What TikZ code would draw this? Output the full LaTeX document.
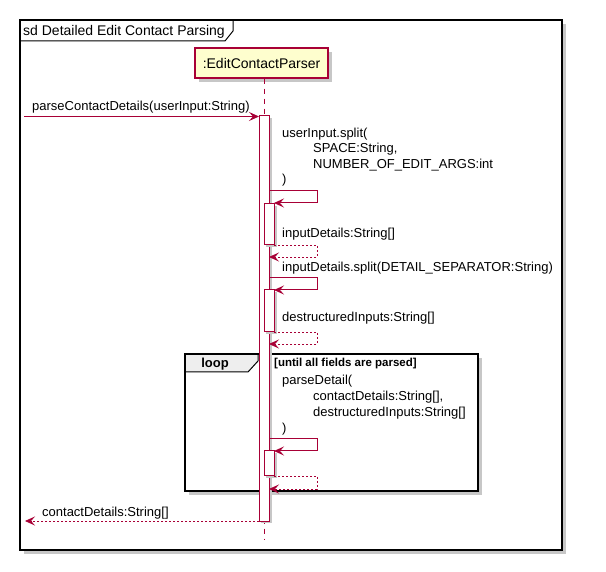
\documentclass[tikz,border=0pt]{standalone}
\usepackage{fontspec}
\setmainfont{Liberation Sans}
\usetikzlibrary{arrows.meta}
\definecolor{umlred}{HTML}{A80036}
\definecolor{umlfill}{HTML}{FEFECE}
\definecolor{tabfill}{HTML}{EEEEEE}
\begin{document}
\begin{tikzpicture}[x=1pt,y=-1pt,
  msgfont/.style={font=\fontsize{13}{15}\selectfont, inner sep=0pt, anchor=base west},
  sync/.style={draw=umlred, line width=1pt, -{Stealth[length=10pt,width=9pt,inset=4pt]}},
  ret/.style={draw=umlred, line width=0.8pt, dash pattern=on 2pt off 2pt, -{Stealth[length=10pt,width=9pt,inset=4pt,sep=0pt]}},
  act/.style={draw=umlred, line width=1pt, fill=white},
  shade/.style={fill=black!22, draw=none},
]
\useasboundingbox (0,0) rectangle (606,572);
\fill[white] (0,0) rectangle (606,572);

% outer frame
\fill[shade] (24,24) rectangle (566,554);
\draw[line width=1.5pt, fill=white] (20,20) rectangle (562,550);
\draw[line width=1pt] (20,41) -- (225,41) -- (233,31) -- (233,20);
\node[msgfont, font=\fontsize{14}{16}\selectfont] (title) at (23,35.5) {sd Detailed Edit Contact Parsing};

% participant
\fill[shade] (199,52) rectangle (332,82);
\node[draw=umlred, fill=umlfill, line width=1.5pt, minimum width=133pt, minimum height=30pt, inner sep=0pt, font=\fontsize{14}{16}\selectfont] (P) at (261.5,63) {:EditContactParser};

% lifeline
\coordinate (lend) at (264,540);
\draw[umlred, line width=1pt, dash pattern=on 5pt off 5pt] (P.south -| lend) -- (lend);

% loop frame
\fill[shade] (189,358) rectangle (482,495);
\fill[white] (185,354) rectangle (478,491);
\draw[line width=1pt, fill=tabfill] (185,354) -- (258,354) -- (258,361) -- (248,372) -- (185,372) -- cycle;
\draw[line width=2pt] (185,354) rectangle (478,491);
\node[font=\bfseries\fontsize{13}{15}\selectfont, inner sep=0pt] (loopl) at (215,364) {loop};
\node[msgfont, font=\bfseries\fontsize{11.5}{13}\selectfont] (guard) at (274,367) {[until all fields are parsed]};

% activations
\fill[shade] (261,118) rectangle (271.5,523);
\draw[act] (259,116) rectangle (269,521);
\coordinate (A0top) at (259,116.5);
\coordinate (A0bot) at (259,521);
\fill[shade] (266,206) rectangle (276.5,247);
\draw[act] (264,204) rectangle (274,245);
\fill[shade] (266,292) rectangle (276.5,334);
\draw[act] (264,290) rectangle (274,332);
\fill[shade] (266,453) rectangle (276.5,478);
\draw[act] (264,451) rectangle (274,476);

% endpoints
\coordinate (start) at (24,116.5);
\coordinate (endret) at (25,521);

% message 1
\draw[sync] (start) -- (A0top);
\node[msgfont] (m1) at (32,111) {parseContactDetails(userInput:String)};

% self call 1
\node[msgfont] (s1a) at (282,137.5) {userInput.split(};
\node[msgfont] (s1b) at (313,153) {SPACE:String,};
\node[msgfont] (s1c) at (313,168.5) {NUMBER\_OF\_EDIT\_ARGS:int};
\node[msgfont] (s1d) at (282,184) {)};
\draw[sync] (269,191) -- (317,191) -- (317,203) -- (274,203);
\node[msgfont] (r1) at (282,238) {inputDetails:String[]};
\draw[ret] (274,245) -- (317,245) -- (317,257) -- (269,257);

% self call 2
\node[msgfont] (s2) at (282,271.5) {inputDetails.split(DETAIL\_SEPARATOR:String)};
\draw[sync] (269,278) -- (317,278) -- (317,290) -- (274,290);
\node[msgfont] (r2) at (282,322) {destructuredInputs:String[]};
\draw[ret] (274,332) -- (317,332) -- (317,344) -- (269,344);

% self call 3
\node[msgfont] (s3a) at (282,385) {parseDetail(};
\node[msgfont] (s3b) at (313,401) {contactDetails:String[],};
\node[msgfont] (s3c) at (313,416.5) {destructuredInputs:String[]};
\node[msgfont] (s3d) at (282,432) {)};
\draw[sync] (269,439) -- (317,439) -- (317,451) -- (274,451);
\draw[ret] (274,476) -- (317,476) -- (317,489) -- (269,489);

% final return
\node[msgfont] (r4) at (42,516.5) {contactDetails:String[]};
\draw[ret] (A0bot) -- (endret);
\end{tikzpicture}
\end{document}
